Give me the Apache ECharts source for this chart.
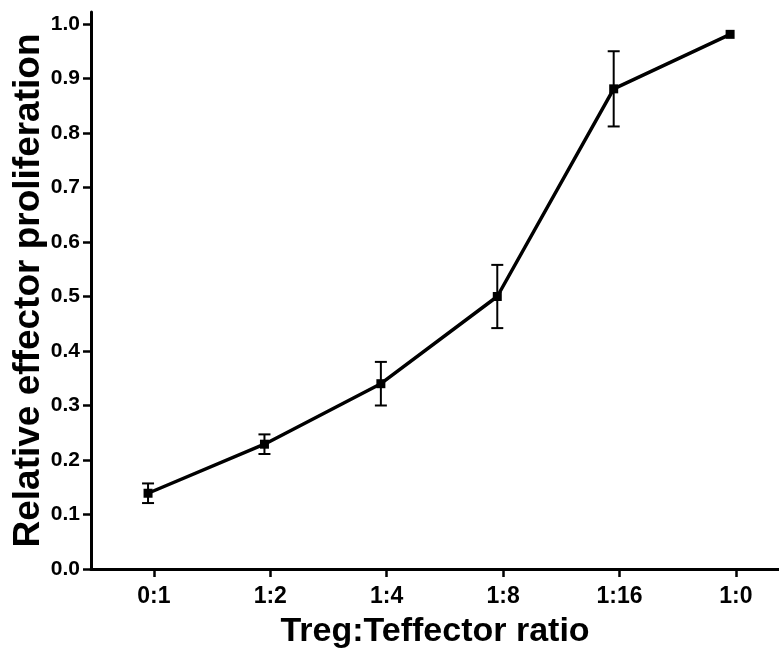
<!DOCTYPE html>
<html>
<head>
<meta charset="utf-8">
<script src="https://cdn.jsdelivr.net/npm/echarts@6/dist/echarts.min.js"></script>
<style>
  html, body { margin: 0; padding: 0; background: #fff; }
  #chart { width: 779px; height: 654px; }
</style>
</head>
<body>
<div id="chart"></div>
<script>
// ratio categories + mean proliferation + error (SEM)
const categories = ['0:1', '1:2', '1:4', '1:8', '1:16', '1:0'];
const meanValues = [0.139, 0.229, 0.340, 0.500, 0.881, 0.981];
const errValues = [0.018, 0.018, 0.040, 0.058, 0.069, 0];
const yTicks = [0, 0.1, 0.2, 0.3, 0.4, 0.5, 0.6, 0.7, 0.8, 0.9, 1.0];

const FONT = '"Liberation Sans", Arial, Helvetica, sans-serif';

// ticks sit a bit right of the points in the original plot
const xTicks = categories.map((c, i) => i + 0.05);

const lineData = meanValues.map((v, i) => [i, v]);
const errData = [];
meanValues.forEach((v, i) => {
    if (errValues[i] > 0) errData.push([i, v - errValues[i], v + errValues[i]]);
});

const myChart = echarts.init(document.getElementById('chart'));

myChart.setOption({
    animation: false,
    backgroundColor: '#fff',
    grid: { left: 91, right: 0, top: 12, bottom: 85, containLabel: false, outerBoundsMode: 'none' },
    xAxis: {
        type: 'value',
        min: -0.49,
        max: 5.42,
        name: 'Treg:Teffector ratio',
        nameLocation: 'middle',
        nameGap: 46,
        nameMoveOverlap: false,
        nameTextStyle: { fontFamily: FONT, fontWeight: 'bold', fontSize: 34, color: '#000' },
        axisLine: { onZero: false, lineStyle: { color: '#000', width: 3 } },
        axisTick: { show: true, length: 8, lineStyle: { color: '#000', width: 2.5 }, customValues: xTicks },
        axisLabel: {
            customValues: xTicks,
            margin: 16,
            fontFamily: FONT, fontWeight: 'bold', fontSize: 23, color: '#000',
            formatter: v => categories[Math.round(v)]
        },
        splitLine: { show: false }
    },
    yAxis: {
        type: 'value',
        min: 0,
        max: 1.022,
        name: 'Relative effector proliferation',
        nameLocation: 'middle',
        nameGap: 44,
        nameMoveOverlap: false,
        nameTextStyle: { fontFamily: FONT, fontWeight: 'bold', fontSize: 37, color: '#000' },
        axisLine: { show: true, onZero: false, lineStyle: { color: '#000', width: 3 } },
        axisTick: { show: true, length: 8, lineStyle: { color: '#000', width: 2.5 }, customValues: yTicks },
        axisLabel: {
            customValues: yTicks,
            margin: 11,
            fontFamily: FONT, fontWeight: 'bold', fontSize: 21, color: '#000',
            formatter: v => v.toFixed(1)
        },
        splitLine: { show: false }
    },
    series: [
        {
            type: 'custom',
            data: errData,
            z: 2,
            renderItem: (params, api) => {
                const x = api.value(0);
                const top = api.coord([x, api.value(2)]);
                const bot = api.coord([x, api.value(1)]);
                const half = 6;
                const st = { stroke: '#000', lineWidth: 2 };
                return {
                    type: 'group',
                    children: [
                        { type: 'line', shape: { x1: top[0], y1: top[1], x2: bot[0], y2: bot[1] }, style: st },
                        { type: 'line', shape: { x1: top[0] - half, y1: top[1], x2: top[0] + half, y2: top[1] }, style: st },
                        { type: 'line', shape: { x1: bot[0] - half, y1: bot[1], x2: bot[0] + half, y2: bot[1] }, style: st }
                    ]
                };
            }
        },
        {
            type: 'line',
            data: lineData,
            z: 3,
            symbol: 'rect',
            symbolSize: 9,
            itemStyle: { color: '#000' },
            lineStyle: { color: '#000', width: 3.5 }
        }
    ]
});
</script>
</body>
</html>
